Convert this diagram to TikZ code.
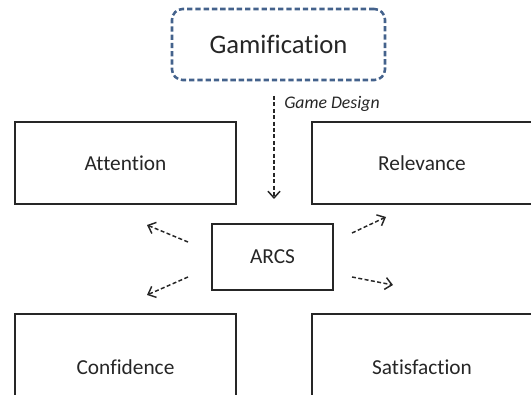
\documentclass[tikz,border=0pt]{standalone}
\usepackage{fontspec}
\setmainfont{Carlito}[Ligatures=CommonOff]
\usetikzlibrary{arrows.meta}
\begin{document}
\begin{tikzpicture}[x=0.75pt,y=-0.75pt,
  box/.style={draw=black!85,line width=1.5pt,minimum width=165.75pt,minimum height=61.5pt,inner sep=0pt,font=\fontsize{16}{19}\selectfont,text=black!85},
  topbox/.style={draw={rgb,255:red,68;green,98;blue,140},line width=1.9pt,dash pattern=on 4pt off 2.2pt,rounded corners=8pt,minimum width=159.75pt,minimum height=53.25pt,inner sep=0pt,font=\fontsize{20}{24}\selectfont,text=black!85},
  arr/.style={draw=black!85,line width=1.1pt,dash pattern=on 3pt off 1.8pt,-{Straight Barb[length=5pt,width=9pt,line width=1.1pt]}}]
\useasboundingbox (0,0) rectangle (531,395);
\clip (0,0) rectangle (531,395);
\node[topbox] (gam) at (278.5,44.5) {Gamification};
\node[box] (att) at (125.5,163) {Attention};
\node[box] (rel) at (422,163) {Relevance};
\node[box,minimum height=79.5pt] (con) at (125.5,367) {Confidence};
\node[box,minimum height=79.5pt] (sat) at (422,367) {Satisfaction};
\node[box,minimum width=90.75pt,minimum height=49.5pt] (arcs) at (272.5,257) {ARCS};
\coordinate (vs) at (274,96);
\coordinate (ve) at (274,199);
\draw[arr] (vs) -- (ve);
\node[anchor=west,inner sep=0pt,font=\fontsize{13.3}{16}\itshape,text=black!85] (gd) at (284,104) {Game Design};
\coordinate (ul1) at (188,242); \coordinate (ul2) at (147,225);
\coordinate (ll1) at (188,277); \coordinate (ll2) at (147,295);
\coordinate (ur1) at (352,233); \coordinate (ur2) at (386,217);
\coordinate (lr1) at (352,277); \coordinate (lr2) at (393,285);
\draw[arr] (ul1) -- (ul2);
\draw[arr] (ll1) -- (ll2);
\draw[arr] (ur1) -- (ur2);
\draw[arr] (lr1) -- (lr2);
\end{tikzpicture}
\end{document}
